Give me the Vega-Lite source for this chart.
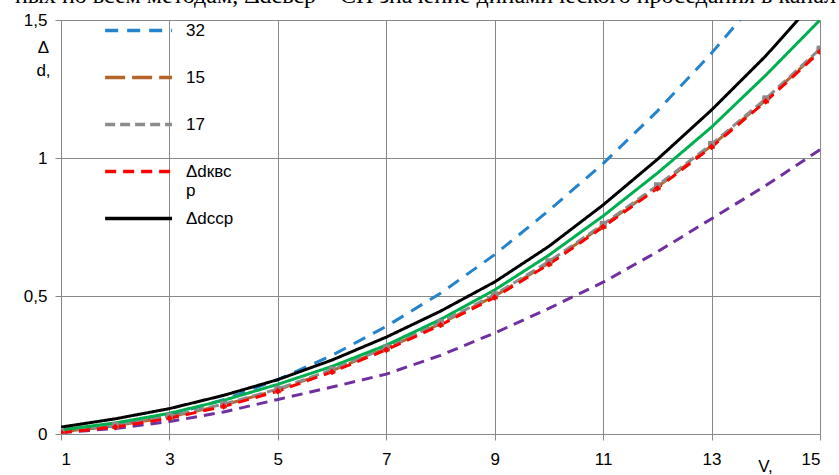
{
  "$schema": "https://vega.github.io/schema/vega-lite/v6.json",
  "width": 759,
  "height": 414,
  "autosize": {"type": "none"},
  "padding": {"left": 61, "top": 20, "right": 19, "bottom": 41},
  "background": "white",
  "title": {
    "text": "ных по всем методам, Δdсвср – СП значение динамического проседания в канал",
    "anchor": "start",
    "frame": "group",
    "dx": -46,
    "offset": -16,
    "baseline": "alphabetic",
    "font": "Liberation Serif",
    "fontSize": 24,
    "fontWeight": "normal",
    "color": "#000000"
  },
  "data": {
    "values": [
      {"x": 1, "s": "p", "y": 0.005}, {"x": 2, "s": "p", "y": 0.02}, {"x": 3, "s": "p", "y": 0.045}, {"x": 4, "s": "p", "y": 0.08}, {"x": 5, "s": "p", "y": 0.125}, {"x": 6, "s": "p", "y": 0.17}, {"x": 7, "s": "p", "y": 0.217}, {"x": 8, "s": "p", "y": 0.285}, {"x": 9, "s": "p", "y": 0.366}, {"x": 10, "s": "p", "y": 0.455}, {"x": 11, "s": "p", "y": 0.55}, {"x": 12, "s": "p", "y": 0.66}, {"x": 13, "s": "p", "y": 0.78}, {"x": 14, "s": "p", "y": 0.9}, {"x": 15, "s": "p", "y": 1.03},
      {"x": 1, "s": "32", "y": 0.007}, {"x": 2, "s": "32", "y": 0.03}, {"x": 3, "s": "32", "y": 0.069}, {"x": 4, "s": "32", "y": 0.124}, {"x": 5, "s": "32", "y": 0.197}, {"x": 6, "s": "32", "y": 0.285}, {"x": 7, "s": "32", "y": 0.39}, {"x": 8, "s": "32", "y": 0.51}, {"x": 9, "s": "32", "y": 0.65}, {"x": 10, "s": "32", "y": 0.81}, {"x": 11, "s": "32", "y": 0.98}, {"x": 12, "s": "32", "y": 1.17}, {"x": 13, "s": "32", "y": 1.38}, {"x": 14, "s": "32", "y": 1.61}, {"x": 15, "s": "32", "y": 1.85},
      {"x": 1, "s": "15", "y": 0.008}, {"x": 2, "s": "15", "y": 0.03}, {"x": 3, "s": "15", "y": 0.062}, {"x": 4, "s": "15", "y": 0.105}, {"x": 5, "s": "15", "y": 0.16}, {"x": 6, "s": "15", "y": 0.23}, {"x": 7, "s": "15", "y": 0.31}, {"x": 8, "s": "15", "y": 0.4}, {"x": 9, "s": "15", "y": 0.5}, {"x": 10, "s": "15", "y": 0.62}, {"x": 11, "s": "15", "y": 0.755}, {"x": 12, "s": "15", "y": 0.895}, {"x": 13, "s": "15", "y": 1.045}, {"x": 14, "s": "15", "y": 1.21}, {"x": 15, "s": "15", "y": 1.39},
      {"x": 1, "s": "17", "y": 0.01}, {"x": 2, "s": "17", "y": 0.032}, {"x": 3, "s": "17", "y": 0.065}, {"x": 4, "s": "17", "y": 0.108}, {"x": 5, "s": "17", "y": 0.163}, {"x": 6, "s": "17", "y": 0.233}, {"x": 7, "s": "17", "y": 0.313}, {"x": 8, "s": "17", "y": 0.404}, {"x": 9, "s": "17", "y": 0.505}, {"x": 10, "s": "17", "y": 0.625}, {"x": 11, "s": "17", "y": 0.76}, {"x": 12, "s": "17", "y": 0.9}, {"x": 13, "s": "17", "y": 1.05}, {"x": 14, "s": "17", "y": 1.215}, {"x": 15, "s": "17", "y": 1.395},
      {"x": 1, "s": "Δdквср", "y": 0.005}, {"x": 2, "s": "Δdквср", "y": 0.025}, {"x": 3, "s": "Δdквср", "y": 0.057}, {"x": 4, "s": "Δdквср", "y": 0.1}, {"x": 5, "s": "Δdквср", "y": 0.155}, {"x": 6, "s": "Δdквср", "y": 0.225}, {"x": 7, "s": "Δdквср", "y": 0.305}, {"x": 8, "s": "Δdквср", "y": 0.395}, {"x": 9, "s": "Δdквср", "y": 0.495}, {"x": 10, "s": "Δdквср", "y": 0.615}, {"x": 11, "s": "Δdквср", "y": 0.75}, {"x": 12, "s": "Δdквср", "y": 0.89}, {"x": 13, "s": "Δdквср", "y": 1.04}, {"x": 14, "s": "Δdквср", "y": 1.205}, {"x": 15, "s": "Δdквср", "y": 1.385},
      {"x": 1, "s": "g", "y": 0.015}, {"x": 2, "s": "g", "y": 0.04}, {"x": 3, "s": "g", "y": 0.075}, {"x": 4, "s": "g", "y": 0.122}, {"x": 5, "s": "g", "y": 0.18}, {"x": 6, "s": "g", "y": 0.245}, {"x": 7, "s": "g", "y": 0.322}, {"x": 8, "s": "g", "y": 0.415}, {"x": 9, "s": "g", "y": 0.522}, {"x": 10, "s": "g", "y": 0.648}, {"x": 11, "s": "g", "y": 0.79}, {"x": 12, "s": "g", "y": 0.945}, {"x": 13, "s": "g", "y": 1.112}, {"x": 14, "s": "g", "y": 1.3}, {"x": 15, "s": "g", "y": 1.5},
      {"x": 1, "s": "Δdсср", "y": 0.025}, {"x": 2, "s": "Δdсср", "y": 0.055}, {"x": 3, "s": "Δdсср", "y": 0.092}, {"x": 4, "s": "Δdсср", "y": 0.14}, {"x": 5, "s": "Δdсср", "y": 0.197}, {"x": 6, "s": "Δdсср", "y": 0.268}, {"x": 7, "s": "Δdсср", "y": 0.351}, {"x": 8, "s": "Δdсср", "y": 0.445}, {"x": 9, "s": "Δdсср", "y": 0.551}, {"x": 10, "s": "Δdсср", "y": 0.68}, {"x": 11, "s": "Δdсср", "y": 0.83}, {"x": 12, "s": "Δdсср", "y": 0.995}, {"x": 13, "s": "Δdсср", "y": 1.174}, {"x": 14, "s": "Δdсср", "y": 1.37}, {"x": 15, "s": "Δdсср", "y": 1.59}
    ]
  },
  "encoding": {
    "x": {
      "field": "x", "type": "quantitative",
      "scale": {"domain": [1, 15], "nice": false, "zero": false},
      "axis": {
        "values": [1, 3, 5, 7, 9, 11, 13, 15],
        "title": "V,",
        "titleX": 704, "titleY": 32, "titleAlign": "center", "titleBaseline": "middle",
        "titleFont": "Liberation Sans", "titleFontSize": 17, "titleFontWeight": "normal", "titleColor": "#000000",
        "labelPadding": 11, "labelFontSize": 17, "labelFont": "Liberation Sans", "labelColor": "#000000",
        "tickSize": 6, "tickColor": "#888888", "domain": false,
        "grid": true, "gridColor": "#888888", "gridWidth": 1
      }
    },
    "y": {
      "field": "y", "type": "quantitative",
      "scale": {"domain": [0, 1.5], "nice": false},
      "axis": {
        "values": [0, 0.5, 1, 1.5],
        "labelExpr": "replace(format(datum.value, ''), '.', ',')",
        "title": ["Δ", "d,"],
        "titleAngle": 0, "titleX": -18, "titleY": 27, "titleAlign": "center", "titleBaseline": "middle",
        "titleLineHeight": 23,
        "titleFont": "Liberation Sans", "titleFontSize": 17, "titleFontWeight": "normal", "titleColor": "#000000",
        "labelPadding": 8, "labelFontSize": 17, "labelFont": "Liberation Sans", "labelColor": "#000000",
        "tickSize": 6, "tickColor": "#888888", "domain": false,
        "grid": true, "gridColor": "#888888", "gridWidth": 1
      }
    }
  },
  "layer": [
    {
      "mark": {"type": "line", "strokeWidth": 3, "clip": true},
      "encoding": {
        "color": {
          "field": "s", "type": "nominal",
          "scale": {
            "domain": ["p", "32", "15", "17", "Δdквср", "g", "Δdсср"],
            "range": ["#7030A0", "#2383CC", "#B5652A", "#8C8C8C", "#FF0000", "#00B050", "#000000"]
          },
          "legend": {
            "values": ["32", "15", "17", "Δdквср", "Δdсср"],
            "title": null,
            "orient": "none",
            "legendX": 42,
            "legendY": 0,
            "symbolType": "M-1,0H7",
            "symbolSize": 280,
            "symbolStrokeWidth": 3.5,
            "symbolFillColor": "transparent",
            "labelFont": "Liberation Sans",
            "labelFontSize": 17,
            "labelColor": "#000000",
            "labelOffset": 62,
            "rowPadding": 9,
            "labelExpr": "datum.label == 'Δdквср' ? ['Δdквс', 'р'] : [datum.label, '']",
            "labelBaseline": "middle",
            "labelLineHeight": 24
          }
        },
        "strokeDash": {
          "field": "s", "type": "nominal",
          "scale": {
            "domain": ["p", "32", "15", "17", "Δdквср", "g", "Δdсср"],
            "range": [[11, 7], [13, 9], [20, 7], [10, 5], [11, 7], [1, 0], [1, 0]]
          },
          "legend": {
            "values": ["32", "15", "17", "Δdквср", "Δdсср"],
            "title": null,
            "orient": "none",
            "legendX": 42,
            "legendY": 0,
            "symbolType": "M-1,0H7",
            "symbolSize": 280,
            "symbolStrokeWidth": 3.5,
            "symbolFillColor": "transparent",
            "labelFont": "Liberation Sans",
            "labelFontSize": 17,
            "labelColor": "#000000",
            "labelOffset": 62,
            "rowPadding": 9,
            "labelExpr": "datum.label == 'Δdквср' ? ['Δdквс', 'р'] : [datum.label, '']",
            "labelBaseline": "middle",
            "labelLineHeight": 24
          }
        }
      }
    },
    {
      "transform": [{"filter": "datum.s == '15' || datum.s == '17' || datum.s == 'Δdквср'"}],
      "mark": {"type": "point", "filled": true, "size": 45, "opacity": 1, "clip": true},
      "encoding": {
        "fill": {
          "field": "s", "type": "nominal",
          "scale": {"domain": ["15", "17", "Δdквср"], "range": ["#B5652A", "#8C8C8C", "#FF0000"]},
          "legend": null
        },
        "shape": {
          "field": "s", "type": "nominal",
          "scale": {"domain": ["15", "17", "Δdквср"], "range": ["square", "square", "diamond"]},
          "legend": null
        }
      }
    }
  ],
  "config": {
    "view": {"stroke": null}
  }
}
